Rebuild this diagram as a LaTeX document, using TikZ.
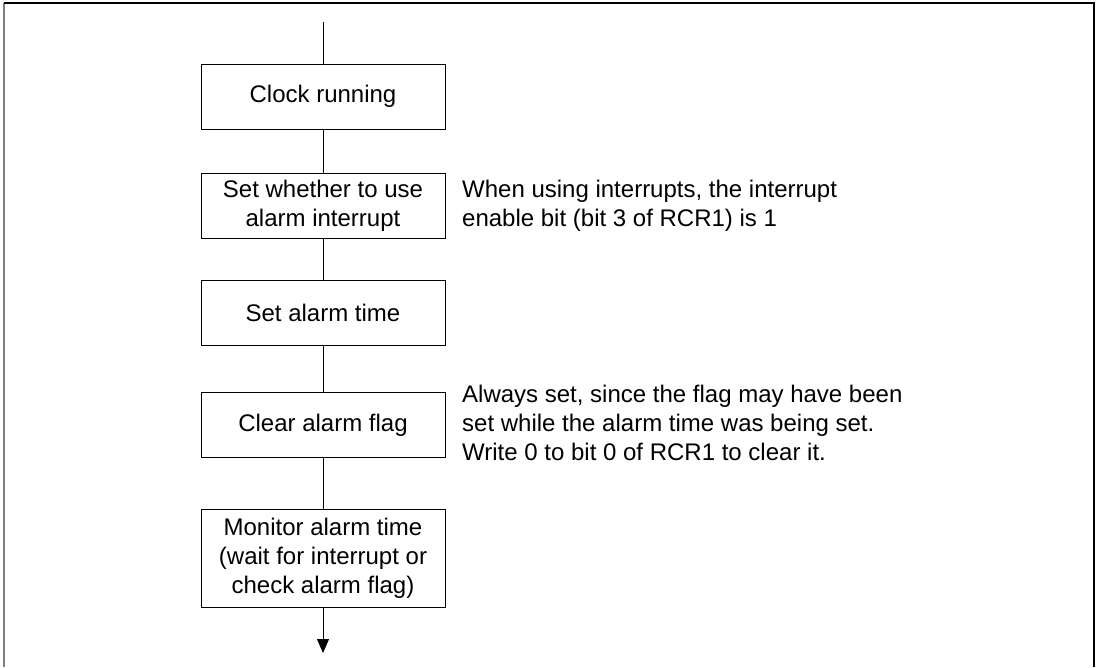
\documentclass[tikz,border=0pt]{standalone}
\usepackage{fontspec}
\setmainfont{Liberation Sans}
\usetikzlibrary{arrows.meta, positioning}
\definecolor{frameline}{HTML}{7F7F7F}

\tikzset{
  stepbox/.style={draw, line width=1pt, minimum width=244pt, minimum height=65pt,
    inner sep=0pt, align=center, font=\fontsize{24}{29}\selectfont},
  notetext/.style={anchor=west, inner sep=0pt, align=left,
    font=\fontsize{24}{29}\selectfont},
  flow/.style={line width=1pt}
}

\begin{document}
\begin{tikzpicture}[x=1pt, y=-1pt, >={Triangle[length=14pt, width=12pt]}]
\useasboundingbox (0,0) rectangle (1098,667);

% Frame (open at the bottom)
\draw[frameline, line width=1.6pt] (4,667) -- (4,3);
\draw[line width=1.2pt] (4,3) -- (1094,3) -- (1094,667);

% Process steps
\node[stepbox] (clock) at (323,96.5) {Clock running};
\node[stepbox] (useint) at (323,205.5) {Set whether to use\\alarm interrupt};
\node[stepbox] (settime) at (323,312.5) {Set alarm time};
\node[stepbox] (clrflag) at (323,425) {Clear alarm flag};
\node[stepbox, minimum height=98pt] (monitor) at (323,558)
  {Monitor alarm time\\(wait for interrupt or\\check alarm flag)};

% Entry and exit
\coordinate (entry) at (323,22);
\coordinate (exit) at (323,653);

% Connectors
\draw[flow] (entry) -- (clock);
\draw[flow] (clock) -- (useint);
\draw[flow] (useint) -- (settime);
\draw[flow] (settime) -- (clrflag);
\draw[flow] (clrflag) -- (monitor);
\draw[flow, ->] (monitor) -- (exit);

% Notes
\node[notetext] (intnote) at (462,205.5)
  {When using interrupts, the interrupt\\enable bit (bit 3 of RCR1) is 1};
\node[notetext] (flagnote) at (462,423)
  {Always set, since the flag may have been\\set while the alarm time was being set.\\Write 0 to bit 0 of RCR1 to clear it.};

\end{tikzpicture}
\end{document}
